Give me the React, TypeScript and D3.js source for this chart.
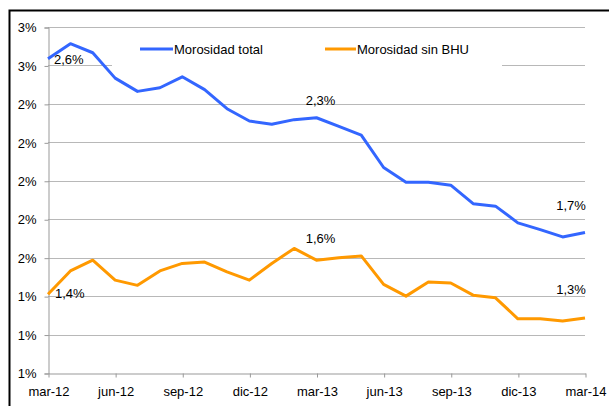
import React, { useEffect, useRef } from 'react';
import * as d3 from 'd3';

const WIDTH = 609;
const HEIGHT = 406;
const BLUE = '#3366FF';
const ORANGE = '#FF9900';

// meses mar-12 .. mar-14
const months = [
  'mar-12', 'abr-12', 'may-12', 'jun-12', 'jul-12', 'ago-12', 'sep-12', 'oct-12', 'nov-12',
  'dic-12', 'ene-13', 'feb-13', 'mar-13', 'abr-13', 'may-13', 'jun-13', 'jul-13', 'ago-13',
  'sep-13', 'oct-13', 'nov-13', 'dic-13', 'ene-14', 'feb-14', 'mar-14'
];
const tickMonths = ['mar-12', 'jun-12', 'sep-12', 'dic-12', 'mar-13', 'jun-13', 'sep-13', 'dic-13', 'mar-14'];

const morosidadTotal = [
  2.635, 2.713, 2.666, 2.534, 2.465, 2.484, 2.541, 2.474, 2.375, 2.311, 2.294, 2.318, 2.328,
  2.283, 2.238, 2.069, 1.992, 1.992, 1.977, 1.881, 1.868, 1.781, 1.746, 1.708, 1.731
];
const morosidadSinBHU = [
  1.41, 1.531, 1.587, 1.483, 1.456, 1.531, 1.57, 1.577, 1.526, 1.483, 1.57, 1.648, 1.587,
  1.599, 1.609, 1.461, 1.4, 1.473, 1.468, 1.405, 1.391, 1.282, 1.282, 1.27, 1.286
];
const yTicks = [1.0, 1.2, 1.4, 1.6, 1.8, 2.0, 2.2, 2.4, 2.6, 2.8];

const series = [
  { name: 'Morosidad total', values: morosidadTotal, color: BLUE },
  { name: 'Morosidad sin BHU', values: morosidadSinBHU, color: ORANGE },
];

// etiquetas de datos: serie, mes, desplazamiento
const dataLabels = [
  { s: 0, m: 'mar-12', dx: 6, dy: 5, anchor: 'start' },
  { s: 0, m: 'mar-13', dx: 4, dy: -13, anchor: 'middle' },
  { s: 0, m: 'mar-14', dx: -14, dy: -22, anchor: 'middle' },
  { s: 1, m: 'mar-12', dx: 7, dy: 4, anchor: 'start' },
  { s: 1, m: 'mar-13', dx: 4, dy: -17, anchor: 'middle' },
  { s: 1, m: 'mar-14', dx: -14, dy: -24, anchor: 'middle' },
];

const App = () => {
  const ref = useRef<SVGSVGElement>(null);

  useEffect(() => {
    const svg = d3.select(ref.current);
    svg.selectAll('*').remove();
    svg.style('font-family', '"Liberation Sans", Arial, sans-serif');

    const x = d3.scalePoint<string>().domain(months).range([48, 585]);
    const y = d3.scaleLinear().domain([1.0, 2.8]).range([373, 27]);

    // marco exterior
    svg.append('path')
      .attr('d', `M9.5,${HEIGHT} V10.5 H${WIDTH}`)
      .attr('fill', 'none')
      .attr('stroke', '#000')
      .attr('stroke-width', 2);

    // rejilla
    svg.append('g')
      .selectAll('line')
      .data(yTicks.slice(1))
      .enter()
      .append('line')
      .attr('x1', 48).attr('x2', 585)
      .attr('y1', d => Math.round(y(d)) + 0.5)
      .attr('y2', d => Math.round(y(d)) + 0.5)
      .attr('stroke', '#b8b8b8')
      .attr('stroke-width', 1);

    // eje y
    const yAxis = d3.axisLeft(y)
      .tickValues(yTicks)
      .tickSize(4)
      .tickPadding(8)
      .tickFormat(d => Math.round(+d) + '%');
    const gy = svg.append('g').attr('transform', 'translate(48.5,0.5)').call(yAxis);
    gy.select('.domain').attr('stroke', '#999');
    gy.selectAll('.tick line').attr('stroke', '#999');
    gy.selectAll('.tick text').attr('font-size', 13).attr('fill', '#000').attr('font-family', '"Liberation Sans", Arial, sans-serif');

    // eje x
    const xAxis = d3.axisBottom(x)
      .tickValues(tickMonths)
      .tickSizeInner(4)
      .tickSizeOuter(0)
      .tickPadding(9);
    const gx = svg.append('g').attr('transform', 'translate(0.5,373.5)').call(xAxis);
    gx.select('.domain').attr('stroke', '#999');
    gx.selectAll('.tick line').attr('stroke', '#999');
    gx.selectAll('.tick text').attr('font-size', 13).attr('fill', '#000').attr('font-family', '"Liberation Sans", Arial, sans-serif');

    // leyenda (fondo blanco)
    svg.append('rect')
      .attr('x', 112).attr('y', 32).attr('width', 390).attr('height', 37)
      .attr('fill', '#fff');
    const legendPos = [{ x: 140, w: 33 }, { x: 325, w: 31 }];
    series.forEach((s, i) => {
      const lp = legendPos[i];
      svg.append('line')
        .attr('x1', lp.x).attr('x2', lp.x + lp.w)
        .attr('y1', 49).attr('y2', 49)
        .attr('stroke', s.color).attr('stroke-width', 3);
      svg.append('text')
        .attr('x', lp.x + lp.w + 1).attr('y', 54)
        .attr('font-size', 13)
        .text(s.name);
    });

    // líneas
    const line = d3.line<number>()
      .x((d, i) => x(months[i]) as number)
      .y(d => y(d));
    series.forEach(s => {
      svg.append('path')
        .datum(s.values)
        .attr('d', line)
        .attr('fill', 'none')
        .attr('stroke', s.color)
        .attr('stroke-width', 3)
        .attr('stroke-linejoin', 'round');
    });

    // etiquetas de datos
    const fmt = d3.format('.1f');
    dataLabels.forEach(l => {
      const idx = months.indexOf(l.m);
      const v = series[l.s].values[idx];
      svg.append('text')
        .attr('x', (x(l.m) as number) + l.dx)
        .attr('y', y(v) + l.dy)
        .attr('text-anchor', l.anchor)
        .attr('font-size', 13)
        .text(fmt(v).replace('.', ',') + '%');
    });
  });

  return (
    <svg
      ref={ref}
      width={WIDTH}
      height={HEIGHT}
      style={{ position: 'absolute', left: 0, top: 0, background: '#fff' }}
    />
  );
};

export default App;
